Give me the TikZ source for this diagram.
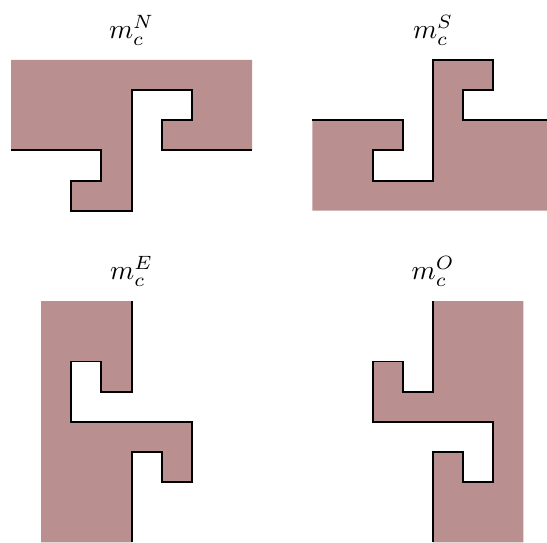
\documentclass[tikz,border=0pt]{standalone}
\usepackage{tikz}
\definecolor{TileRose}{RGB}{185,143,143}

\begin{document}
\begin{tikzpicture}[x=30.15pt,y=-30.15pt,
  tile/.style={fill=TileRose,draw=none},
  rim/.style={line width=1.9pt,line join=miter},
  tag/.style={anchor=base,inner sep=0pt,scale=2.75}]
\useasboundingbox (-0.365,-1.99) rectangle (17.78,15.99);
% north piece
\fill[tile] (0,0) -- (8,0) -- (8,3) -- (5,3) -- (5,2) -- (6,2) -- (6,1) -- (4,1) -- (4,5) -- (2,5) -- (2,4) -- (3,4) -- (3,3) -- (0,3) -- cycle;
\draw[rim] (0,3) -- (3,3) -- (3,4) -- (2,4) -- (2,5) -- (4,5) -- (4,1) -- (6,1) -- (6,2) -- (5,2) -- (5,3) -- (8,3);
\node[tag] (mN) at (4,-0.72) {$m_c^N$};
% south piece
\fill[tile] (10,2) -- (13,2) -- (13,3) -- (12,3) -- (12,4) -- (14,4) -- (14,0) -- (16,0) -- (16,1) -- (15,1) -- (15,2) -- (18,2) -- (18,5) -- (10,5) -- cycle;
\draw[rim] (10,2) -- (13,2) -- (13,3) -- (12,3) -- (12,4) -- (14,4) -- (14,0) -- (16,0) -- (16,1) -- (15,1) -- (15,2) -- (18,2);
\node[tag] (mS) at (14,-0.72) {$m_c^S$};
% east piece
\fill[tile] (4,8) -- (4,11) -- (3,11) -- (3,10) -- (2,10) -- (2,12) -- (6,12) -- (6,14) -- (5,14) -- (5,13) -- (4,13) -- (4,16) -- (1,16) -- (1,8) -- cycle;
\draw[rim] (4,8) -- (4,11) -- (3,11) -- (3,10) -- (2,10) -- (2,12) -- (6,12) -- (6,14) -- (5,14) -- (5,13) -- (4,13) -- (4,16);
\node[tag] (mE) at (4,7.28) {$m_c^E$};
% west piece
\fill[tile] (14,8) -- (14,11) -- (13,11) -- (13,10) -- (12,10) -- (12,12) -- (16,12) -- (16,14) -- (15,14) -- (15,13) -- (14,13) -- (14,16) -- (17,16) -- (17,8) -- cycle;
\draw[rim] (14,8) -- (14,11) -- (13,11) -- (13,10) -- (12,10) -- (12,12) -- (16,12) -- (16,14) -- (15,14) -- (15,13) -- (14,13) -- (14,16);
\node[tag] (mO) at (14,7.28) {$m_c^O$};
\end{tikzpicture}
\end{document}
